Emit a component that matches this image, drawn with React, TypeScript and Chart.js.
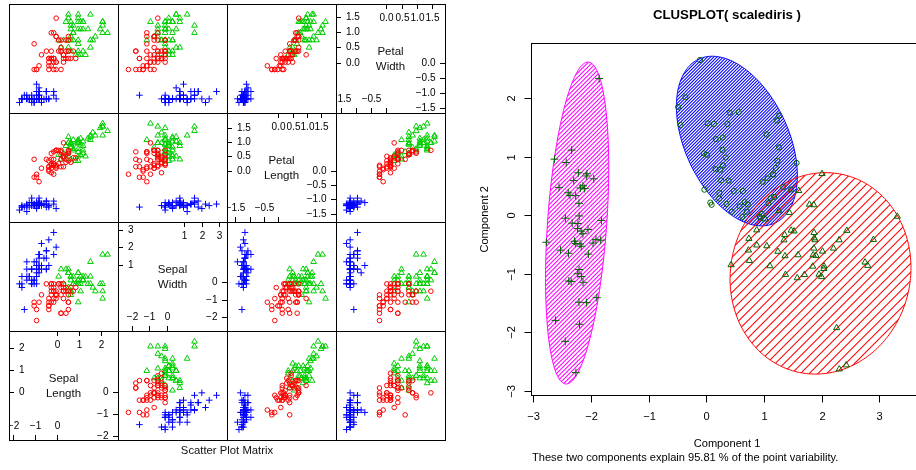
import React, { useEffect, useRef } from "react";
import { Chart, registerables } from "chart.js";
Chart.register(...registerables);

const FONT = '"Liberation Sans", Arial, Helvetica, sans-serif';

// ---- Iris measurements (150 flowers) ----
const sepalLength = [
  5.1,4.9,4.7,4.6,5.0,5.4,4.6,5.0,4.4,4.9,5.4,4.8,4.8,4.3,5.8,5.7,5.4,5.1,5.7,5.1,5.4,5.1,4.6,5.1,4.8,5.0,5.0,5.2,5.2,4.7,4.8,5.4,5.2,5.5,4.9,5.0,5.5,4.9,4.4,5.1,5.0,4.5,4.4,5.0,5.1,4.8,5.1,4.6,5.3,5.0,
  7.0,6.4,6.9,5.5,6.5,5.7,6.3,4.9,6.6,5.2,5.0,5.9,6.0,6.1,5.6,6.7,5.6,5.8,6.2,5.6,5.9,6.1,6.3,6.1,6.4,6.6,6.8,6.7,6.0,5.7,5.5,5.5,5.8,6.0,5.4,6.0,6.7,6.3,5.6,5.5,5.5,6.1,5.8,5.0,5.6,5.7,5.7,6.2,5.1,5.7,
  6.3,5.8,7.1,6.3,6.5,7.6,4.9,7.3,6.7,7.2,6.5,6.4,6.8,5.7,5.8,6.4,6.5,7.7,7.7,6.0,6.9,5.6,7.7,6.3,6.7,7.2,6.2,6.1,6.4,7.2,7.4,7.9,6.4,6.3,6.1,7.7,6.3,6.4,6.0,6.9,6.7,6.9,5.8,6.8,6.7,6.7,6.3,6.5,6.2,5.9,
];
const sepalWidth = [
  3.5,3.0,3.2,3.1,3.6,3.9,3.4,3.4,2.9,3.1,3.7,3.4,3.0,3.0,4.0,4.4,3.9,3.5,3.8,3.8,3.4,3.7,3.6,3.3,3.4,3.0,3.4,3.5,3.4,3.2,3.1,3.4,4.1,4.2,3.1,3.2,3.5,3.6,3.0,3.4,3.5,2.3,3.2,3.5,3.8,3.0,3.8,3.2,3.7,3.3,
  3.2,3.2,3.1,2.3,2.8,2.8,3.3,2.4,2.9,2.7,2.0,3.0,2.2,2.9,2.9,3.1,3.0,2.7,2.2,2.5,3.2,2.8,2.5,2.8,2.9,3.0,2.8,3.0,2.9,2.6,2.4,2.4,2.7,2.7,3.0,3.4,3.1,2.3,3.0,2.5,2.6,3.0,2.6,2.3,2.7,3.0,2.9,2.9,2.5,2.8,
  3.3,2.7,3.0,2.9,3.0,3.0,2.5,2.9,2.5,3.6,3.2,2.7,3.0,2.5,2.8,3.2,3.0,3.8,2.6,2.2,3.2,2.8,2.8,2.7,3.3,3.2,2.8,3.0,2.8,3.0,2.8,3.8,2.8,2.8,2.6,3.0,3.4,3.1,3.0,3.1,3.1,3.1,2.7,3.2,3.3,3.0,2.5,3.0,3.4,3.0,
];
const petalLength = [
  1.4,1.4,1.3,1.5,1.4,1.7,1.4,1.5,1.4,1.5,1.5,1.6,1.4,1.1,1.2,1.5,1.3,1.4,1.7,1.5,1.7,1.5,1.0,1.7,1.9,1.6,1.6,1.5,1.4,1.6,1.6,1.5,1.5,1.4,1.5,1.2,1.3,1.4,1.3,1.5,1.3,1.3,1.3,1.6,1.9,1.4,1.6,1.4,1.5,1.4,
  4.7,4.5,4.9,4.0,4.6,4.5,4.7,3.3,4.6,3.9,3.5,4.2,4.0,4.7,3.6,4.4,4.5,4.1,4.5,3.9,4.8,4.0,4.9,4.7,4.3,4.4,4.8,5.0,4.5,3.5,3.8,3.7,3.9,5.1,4.5,4.5,4.7,4.4,4.1,4.0,4.4,4.6,4.0,3.3,4.2,4.2,4.2,4.3,3.0,4.1,
  6.0,5.1,5.9,5.6,5.8,6.6,4.5,6.3,5.8,6.1,5.1,5.3,5.5,5.0,5.1,5.3,5.5,6.7,6.9,5.0,5.7,4.9,6.7,4.9,5.7,6.0,4.8,4.9,5.6,5.8,6.1,6.4,5.6,5.1,5.6,6.1,5.6,5.5,4.8,5.4,5.6,5.1,5.1,5.9,5.7,5.2,5.0,5.2,5.4,5.1,
];
const petalWidth = [
  0.2,0.2,0.2,0.2,0.2,0.4,0.3,0.2,0.2,0.1,0.2,0.2,0.1,0.1,0.2,0.4,0.4,0.3,0.3,0.3,0.2,0.4,0.2,0.5,0.2,0.2,0.4,0.2,0.2,0.2,0.2,0.4,0.1,0.2,0.2,0.2,0.2,0.1,0.2,0.2,0.3,0.3,0.2,0.6,0.4,0.3,0.2,0.2,0.2,0.2,
  1.4,1.5,1.5,1.3,1.5,1.3,1.6,1.0,1.3,1.4,1.0,1.5,1.0,1.4,1.3,1.4,1.5,1.0,1.5,1.1,1.8,1.3,1.5,1.2,1.3,1.4,1.4,1.7,1.5,1.0,1.1,1.0,1.2,1.6,1.5,1.6,1.5,1.3,1.3,1.3,1.2,1.4,1.2,1.0,1.3,1.2,1.3,1.3,1.1,1.3,
  2.5,1.9,2.1,1.8,2.2,2.1,1.7,1.8,1.8,2.5,2.0,1.9,2.1,2.0,2.4,2.3,1.8,2.2,2.3,1.5,2.3,2.0,2.0,1.8,2.1,1.8,1.8,1.8,2.1,1.6,1.9,2.0,2.2,1.5,1.4,2.3,2.4,1.8,1.8,2.1,2.4,2.3,1.9,2.3,2.5,2.3,1.9,2.0,2.3,1.8,
];
// k-means cluster of each flower: 1 = circle, 2 = triangle, 3 = plus
const cluster = [
  3,3,3,3,3,3,3,3,3,3,3,3,3,3,3,3,3,3,3,3,3,3,3,3,3,3,3,3,3,3,3,3,3,3,3,3,3,3,3,3,3,3,3,3,3,3,3,3,3,3,
  2,2,2,1,1,1,2,1,1,1,1,1,1,1,1,2,1,1,1,1,2,1,1,1,1,2,2,2,1,1,1,1,1,1,1,2,2,1,1,1,1,1,1,1,1,1,1,1,1,1,
  2,1,2,2,2,2,1,2,2,2,2,2,2,1,1,2,2,2,2,1,2,1,2,1,2,2,1,2,2,2,2,2,2,1,1,2,2,2,1,2,2,2,1,2,2,2,1,2,2,1,
];

// ---- Scatter plot matrix axes ----
const varNames = [["Sepal", "Length"], ["Sepal", "Width"], ["Petal", "Length"], ["Petal", "Width"]];
const axisLimits = [[-2.168, 2.788], [-2.811, 3.466], [-1.796, 2.014], [-1.663, 1.927]];
const lowTicks = [[-2, -1, 0], [-2, -1, 0], [-1.5, -1, -0.5, 0], [-1.5, -1, -0.5, 0]];
const highTicks = [[0, 1, 2], [1, 2, 3], [0, 0.5, 1, 1.5], [0, 0.5, 1, 1.5]];
const bottomLabelTicks = [[-2, -1, 0], [-2, -1, 0], [-1.5, -0.5], [-1.5, -0.5]];
const tickDecimals = [0, 0, 1, 1];

// ---- Clusplot ----
const pc1Loadings = [0.5211, -0.2693, 0.5804, 0.5649];
const pc2Loadings = [-0.3774, -0.9233, -0.0245, -0.0669];
const clusXTicks = [-3, -2, -1, 0, 1, 2, 3];
const clusYTicks = [-3, -2, -1, 0, 1, 2];
const clusXRange = [-3.04, 3.757];
const clusYRange = [-3.073, 2.94];
// ellipse per cluster (1, 2, 3): centre and spread matrix
const ellipseCenterX = [0.53, 1.98, -2.24];
const ellipseCenterY = [1.27, -0.99, -0.13];
const ellipseVarX = [1.1, 2.46, 0.30];
const ellipseCovXY = [-0.62, 0.15, 0.52];
const ellipseVarY = [2.10, 2.96, 7.56];
const ellipseColors = ["#0000FF", "#FF0000", "#FF00FF"];
const hatchSpacing = [3.2, 8.8, 4.3];

const clusterIds = [1, 2, 3];
const matrixColors = ["#FF0000", "#00CD00", "#0000FF"];
const pointStyles = ["circle", "triangle", "cross"];
const matrixRadius = [2.3, 3.3, 3.3];
const clusRadius = [2.6, 3.6, 4];
const clusPointColor = "#006400";

const mean = (a: number[]) => a.reduce((s, v) => s + v, 0) / a.length;
const sdev = (a: number[]) => {
  const m = mean(a);
  return Math.sqrt(a.reduce((s, v) => s + (v - m) * (v - m), 0) / (a.length - 1));
};
const standardize = (a: number[]) => {
  const m = mean(a), s = sdev(a);
  return a.map((v) => (v - m) / s);
};
const scaled = [standardize(sepalLength), standardize(sepalWidth), standardize(petalLength), standardize(petalWidth)];
const corScale = Math.sqrt(150 / 149);
const comp1 = scaled[0].map((_, i) => corScale * scaled.reduce((s, col, j) => s + pc1Loadings[j] * col[i], 0));
const comp2 = scaled[0].map((_, i) => corScale * scaled.reduce((s, col, j) => s + pc2Loadings[j] * col[i], 0));

const fmt = (t: number, d: number) => t.toFixed(d).replace("-", "\u2212");

const PANEL = 109;
const GRID_LEFT = 9;
const GRID_TOP = 4;

function baseOptions(xr: number[], yr: number[], padding: any) {
  return {
    responsive: false,
    animation: false,
    events: [],
    layout: { padding },
    plugins: { legend: { display: false }, tooltip: { enabled: false }, title: { display: false } },
    scales: {
      x: { type: "linear", min: xr[0], max: xr[1], display: false },
      y: { type: "linear", min: yr[0], max: yr[1], display: false },
    },
  };
}

function scatterConfig(xi: number, yi: number) {
  return {
    type: "scatter",
    data: {
      datasets: clusterIds.map((c, k) => ({
        data: cluster
          .map((cl, i) => (cl === c ? { x: scaled[xi][i], y: scaled[yi][i] } : null))
          .filter((p) => p !== null),
        pointStyle: pointStyles[k],
        pointRadius: matrixRadius[k],
        pointHoverRadius: matrixRadius[k],
        borderColor: matrixColors[k],
        backgroundColor: "rgba(0,0,0,0)",
        borderWidth: 1,
      })),
    },
    options: baseOptions(axisLimits[xi], axisLimits[yi], 0),
  };
}

const diagPlugin = {
  id: "diagAxes",
  afterDraw(chart: any, _a: any, opts: any) {
    const v: number = opts.v;
    const { ctx } = chart;
    const xs = chart.scales.x, ys = chart.scales.y;
    const W = chart.width, H = chart.height;
    const TL = 5;
    const d = tickDecimals[v];
    ctx.save();
    ctx.strokeStyle = "#000";
    ctx.fillStyle = "#000";
    ctx.lineWidth = 1;
    ctx.font = `10px ${FONT}`;
    const line = (x1: number, y1: number, x2: number, y2: number) => {
      ctx.beginPath(); ctx.moveTo(x1, y1); ctx.lineTo(x2, y2); ctx.stroke();
    };
    ctx.textAlign = "center";
    ctx.textBaseline = "middle";
    highTicks[v].forEach((t) => {
      const px = Math.round(xs.getPixelForValue(t)) + 0.5;
      line(px, 0, px, TL);
      ctx.fillText(fmt(t, d), px, 14);
    });
    lowTicks[v].forEach((t) => {
      const px = Math.round(xs.getPixelForValue(t)) + 0.5;
      line(px, H - TL, px, H);
      if (bottomLabelTicks[v].includes(t)) ctx.fillText(fmt(t, d), px, H - 13.3);
    });
    ctx.textAlign = "left";
    highTicks[v].forEach((t) => {
      const py = Math.round(ys.getPixelForValue(t)) + 0.5;
      line(0, py, TL, py);
      ctx.fillText(fmt(t, d), 10, py);
    });
    ctx.textAlign = "right";
    lowTicks[v].forEach((t) => {
      const py = Math.round(ys.getPixelForValue(t)) + 0.5;
      line(W - TL, py, W, py);
      ctx.fillText(fmt(t, d), W - 9.5, py);
    });
    ctx.fillStyle = "#111";
    ctx.font = `11.5px ${FONT}`;
    ctx.textAlign = "center";
    ctx.fillText(varNames[v][0], W / 2, H / 2 + 0.7 - 7.8);
    ctx.fillText(varNames[v][1], W / 2, H / 2 + 0.7 + 7.8);
    ctx.restore();
  },
};

function diagConfig(v: number) {
  const opts: any = baseOptions(axisLimits[v], axisLimits[v], 0);
  opts.plugins.diagAxes = { v };
  return { type: "scatter", data: { datasets: [] }, options: opts, plugins: [diagPlugin] };
}

const clusPlugin = {
  id: "clusDecor",
  beforeDatasetsDraw(chart: any) {
    const { ctx, chartArea: a } = chart;
    const xs = chart.scales.x, ys = chart.scales.y;
    ctx.save();
    ctx.beginPath();
    ctx.rect(a.left, a.top, a.right - a.left, a.bottom - a.top);
    ctx.clip();
    for (let k = 0; k < 3; k++) {
      const ax = Math.sqrt(ellipseVarX[k]);
      const b = ellipseCovXY[k] / ax;
      const c = Math.sqrt(ellipseVarY[k] - b * b);
      const path = new Path2D();
      let minX = Infinity, maxX = -Infinity, minY = Infinity, maxY = -Infinity;
      const N = 240;
      for (let i = 0; i <= N; i++) {
        const t = (i / N) * Math.PI * 2;
        const X = xs.getPixelForValue(ellipseCenterX[k] + ax * Math.cos(t));
        const Y = ys.getPixelForValue(ellipseCenterY[k] + b * Math.cos(t) + c * Math.sin(t));
        if (i === 0) path.moveTo(X, Y); else path.lineTo(X, Y);
        minX = Math.min(minX, X); maxX = Math.max(maxX, X);
        minY = Math.min(minY, Y); maxY = Math.max(maxY, Y);
      }
      path.closePath();
      ctx.save();
      ctx.clip(path);
      ctx.strokeStyle = ellipseColors[k];
      ctx.lineWidth = 1.05;
      ctx.beginPath();
      const h = hatchSpacing[k];
      const start = Math.floor((minX + minY) / h) * h;
      for (let s = start; s <= maxX + maxY; s += h) {
        ctx.moveTo(minX - 2, s - minX + 2);
        ctx.lineTo(maxX + 2, s - maxX - 2);
      }
      ctx.stroke();
      ctx.restore();
      ctx.strokeStyle = ellipseColors[k];
      ctx.lineWidth = 1;
      ctx.stroke(path);
    }
    ctx.restore();
  },
  afterDraw(chart: any) {
    const { ctx, chartArea: a } = chart;
    const xs = chart.scales.x, ys = chart.scales.y;
    const L = Math.round(a.left) + 0.5, R = Math.round(a.right) + 0.5;
    const T = Math.round(a.top) + 0.5, B = Math.round(a.bottom) + 0.5;
    ctx.save();
    ctx.strokeStyle = "#000";
    ctx.fillStyle = "#000";
    ctx.lineWidth = 1;
    ctx.strokeRect(L, T, R - L, B - T);
    const line = (x1: number, y1: number, x2: number, y2: number) => {
      ctx.beginPath(); ctx.moveTo(x1, y1); ctx.lineTo(x2, y2); ctx.stroke();
    };
    ctx.font = `11.1px ${FONT}`;
    ctx.textAlign = "center";
    ctx.textBaseline = "middle";
    clusXTicks.forEach((t) => {
      const px = Math.round(xs.getPixelForValue(t)) + 0.5;
      line(px, B, px, B + 7);
      ctx.fillText(fmt(t, 0), px, B + 21.5);
    });
    clusYTicks.forEach((t) => {
      const py = Math.round(ys.getPixelForValue(t)) + 0.5;
      line(L - 7, py, L, py);
      ctx.save();
      ctx.translate(L - 19.5, py);
      ctx.rotate(-Math.PI / 2);
      ctx.fillText(fmt(t, 0), 0, 0);
      ctx.restore();
    });
    const cx = (a.left + a.right) / 2;
    ctx.fillText("Component 1", cx, B + 48.7);
    ctx.save();
    ctx.translate(L - 47, (a.top + a.bottom) / 2);
    ctx.rotate(-Math.PI / 2);
    ctx.fillText("Component 2", 0, 0);
    ctx.restore();
    ctx.textAlign = "left";
    ctx.fillText("These two components explain 95.81 % of the point variability.", a.left + 1, B + 62.7);
    ctx.textAlign = "center";
    ctx.font = `bold 13.2px ${FONT}`;
    ctx.fillText("CLUSPLOT( scalediris )", cx, 15.7);
    ctx.restore();
  },
};

function clusConfig() {
  return {
    type: "scatter",
    data: {
      datasets: clusterIds.map((c, k) => ({
        data: cluster
          .map((cl, i) => (cl === c ? { x: comp1[i], y: comp2[i] } : null))
          .filter((p) => p !== null),
        pointStyle: pointStyles[k],
        pointRadius: clusRadius[k],
        pointHoverRadius: clusRadius[k],
        borderColor: clusPointColor,
        backgroundColor: "rgba(0,0,0,0)",
        borderWidth: 1,
      })),
    },
    options: baseOptions(clusXRange, clusYRange, { left: 61, right: 61, top: 43.3, bottom: 74.7 }),
    plugins: [clusPlugin],
  };
}

function ChartBox({ left, top, width, height, make }: any) {
  const ref = useRef<HTMLCanvasElement>(null);
  useEffect(() => {
    const chart = new Chart(ref.current as HTMLCanvasElement, make());
    return () => chart.destroy();
  }, []);
  return (
    <canvas
      ref={ref}
      width={width}
      height={height}
      style={{ position: "absolute", left, top, width, height, display: "block" }}
    />
  );
}

export default function App() {
  const panels: any[] = [];
  for (let r = 0; r < 4; r++) {
    for (let c = 0; c < 4; c++) {
      const isDiag = r === 3 - c;
      panels.push(
        <ChartBox
          key={`p${r}${c}`}
          left={GRID_LEFT + PANEL * c}
          top={GRID_TOP + PANEL * r}
          width={PANEL}
          height={PANEL}
          make={() => (isDiag ? diagConfig(c) : scatterConfig(c, 3 - r))}
        />
      );
    }
  }
  const lines: any[] = [];
  for (let i = 0; i <= 4; i++) {
    lines.push(
      <div key={`v${i}`} style={{ position: "absolute", left: GRID_LEFT + PANEL * i, top: GRID_TOP, width: 1, height: PANEL * 4 + 1, background: "#000" }} />
    );
    lines.push(
      <div key={`h${i}`} style={{ position: "absolute", left: GRID_LEFT, top: GRID_TOP + PANEL * i, width: PANEL * 4 + 1, height: 1, background: "#000" }} />
    );
  }
  return (
    <div style={{ position: "fixed", left: 0, top: 0, width: 916, height: 470, overflow: "hidden", background: "#fff" }}>
      {panels}
      {lines}
      <div
        style={{
          position: "absolute", left: 127, top: 443, width: 200, textAlign: "center",
          font: `11.3px ${FONT}`, lineHeight: "14px", color: "#111",
        }}
      >
        Scatter Plot Matrix
      </div>
      <ChartBox left={470} top={0} width={514} height={470} make={clusConfig} />
    </div>
  );
}
